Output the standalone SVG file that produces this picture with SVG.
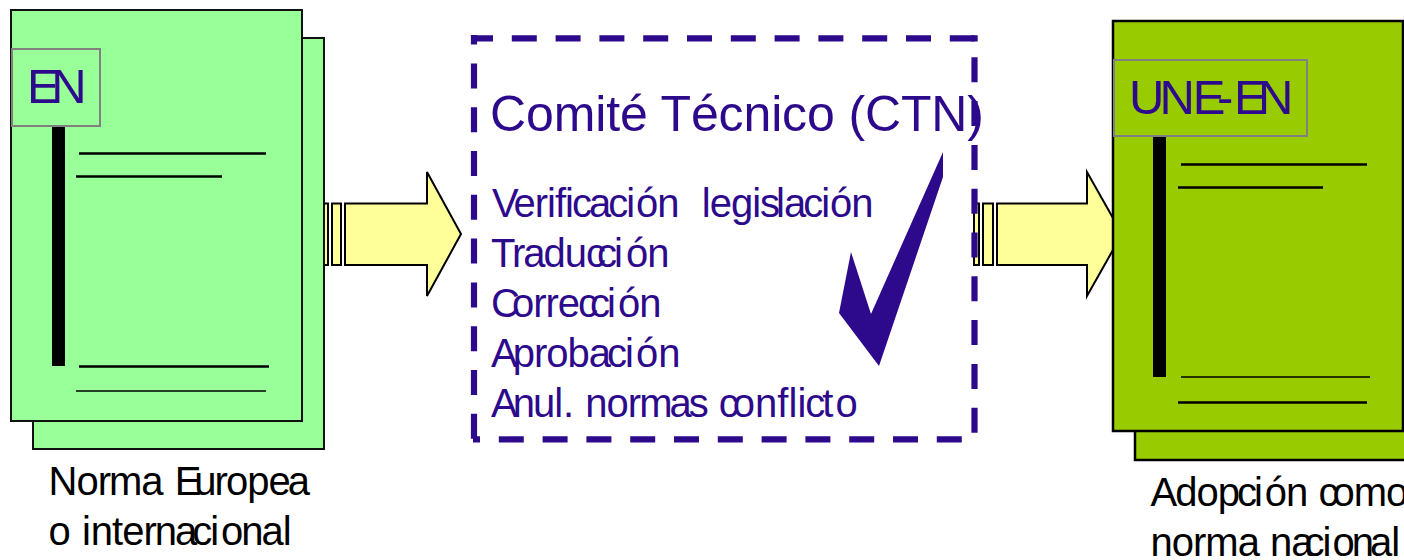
<svg xmlns="http://www.w3.org/2000/svg" width="1404" height="560" viewBox="0 0 1404 560">
<style>
text{font-family:"Liberation Sans",Arial,sans-serif;fill:#2d0a8c}
.t{font-size:40px}
.h{font-size:49px}
.k{fill:#000}
.pa{fill:#99ff99;stroke:#111;stroke-width:2}
.pb{fill:#99cc00;stroke:#000;stroke-width:2.5}
.tag{fill:none;stroke:#808080;stroke-width:2}
.ar{fill:#ffff99;stroke:#000;stroke-width:2}
.l{stroke:#000;stroke-width:2.5}
.l2{stroke:#000;stroke-width:1.5}
.d{fill:none;stroke:#2d0a8c;stroke-width:6.200}
.ds{stroke-dasharray:25 18.800}
</style>
<rect width="1404" height="560" fill="#fff"/>
<g id="connectors">
<path class="ar" d="M324 203.500H328V265H324ZM332 203.500H341V265H332ZM345 203.500H427V172L461 234L427 296V265H345Z"/>
<path class="ar" d="M974 203.500H979V265H974ZM983 203.500H993V265H983ZM997 203.500H1087V172L1122 234L1087 296V265H997Z"/>
</g>
<g id="node-en">
<rect class="pa" x="33" y="38" width="291" height="411"/>
<rect class="pa" x="11" y="10" width="291" height="411"/>
<rect x="52" y="125" width="13" height="241" fill="#000"/>
<path class="l" d="M79 153.500H266M76 176.500H222M79 366.500H269"/>
<path class="l2" d="M76 391H266"/>
<rect class="tag" x="12" y="49" width="88" height="77"/>
<text class="h" x="27" y="103" dx="0 -8.400">EN</text>
<text class="t k" x="48.500" y="495" dx="0 -1 -1 -2 -1 0 0 -7 -2 -2 -1 -1 -3">Norma Europea</text>
<text class="t k" x="48.500" y="545" dx="0 0 0 0 -1 -1 -1 -2 -2 -5 -2 2 -2 -2 -1">o internacional</text>
</g>
<g id="node-ctn">
<path class="d ds" d="M471 38.300H974.500" stroke-dashoffset="3"/>
<path class="d" d="M971 38.300H977.700M480 439.400H473"/>
<path class="d ds" d="M974.500 57.300V434"/>
<path class="d ds" d="M961.800 439.400H498"/>
<path class="d ds" d="M474 438.800V35"/>
<text class="h" style="font-size:50px" x="490" y="131" textLength="494">Comité Técnico (CTN)</text>
<text class="t" x="492" y="217" dx="0 -3 -1 -1 -1 -1 -2 -3 -3 -2 1 -1 0 11 -1 -1 -1 -1 -4 -1 -3 -2 0 -1">Verificación legislación</text>
<text class="t" x="491" y="267" dx="0 -2 -2 -2 -1 -1 -9 -3 3 -1">Traducción</text>
<text class="t" x="491" y="317" dx="0 -8 -1 -1 -1 -2 -8 -3 2 -1">Corrección</text>
<text class="t" x="491" y="367" dx="0 -5 -1 -1 -1 -1 -4 -2 2 0">Aprobación</text>
<text class="t" x="491" y="417" dx="0 -5 -2 -1 0 0 0 -1 -1 -2 -3 -3 -1 0 -6 0 0 0 0 -1 -3 2">Anul. normas conflicto</text>
<path d="M943 152V177L879 366L839 313L851 252L871 314Z" fill="#2d0a8c"/>
</g>
<g id="node-une">
<rect class="pb" x="1135" y="49" width="290" height="411"/>
<rect class="pb" x="1113" y="21" width="290" height="410"/>
<rect x="1153" y="136" width="13" height="241" fill="#000"/>
<path class="l" d="M1181 164.500H1367M1178 187.500H1323M1178 402.500H1367"/>
<path class="l2" d="M1181 377H1370"/>
<rect class="tag" x="1114" y="60" width="193" height="76"/>
<text class="h" x="1129" y="114" dx="0 -4.800 -2.200 -8.500 0.800 -8.700">UNE-EN</text>
<text class="t k" x="1150.500" y="506" dx="0 -2 -1 -1 -3 -3 2 -1 -1 0 -6 -1 -1">Adopción como</text>
<text class="t k" x="1150.500" y="556" dx="0 -1 -1 -1 -1 -1 0 -1 -9 -2 1 -3 -4 -1">norma nacional</text>
</g>
</svg>
